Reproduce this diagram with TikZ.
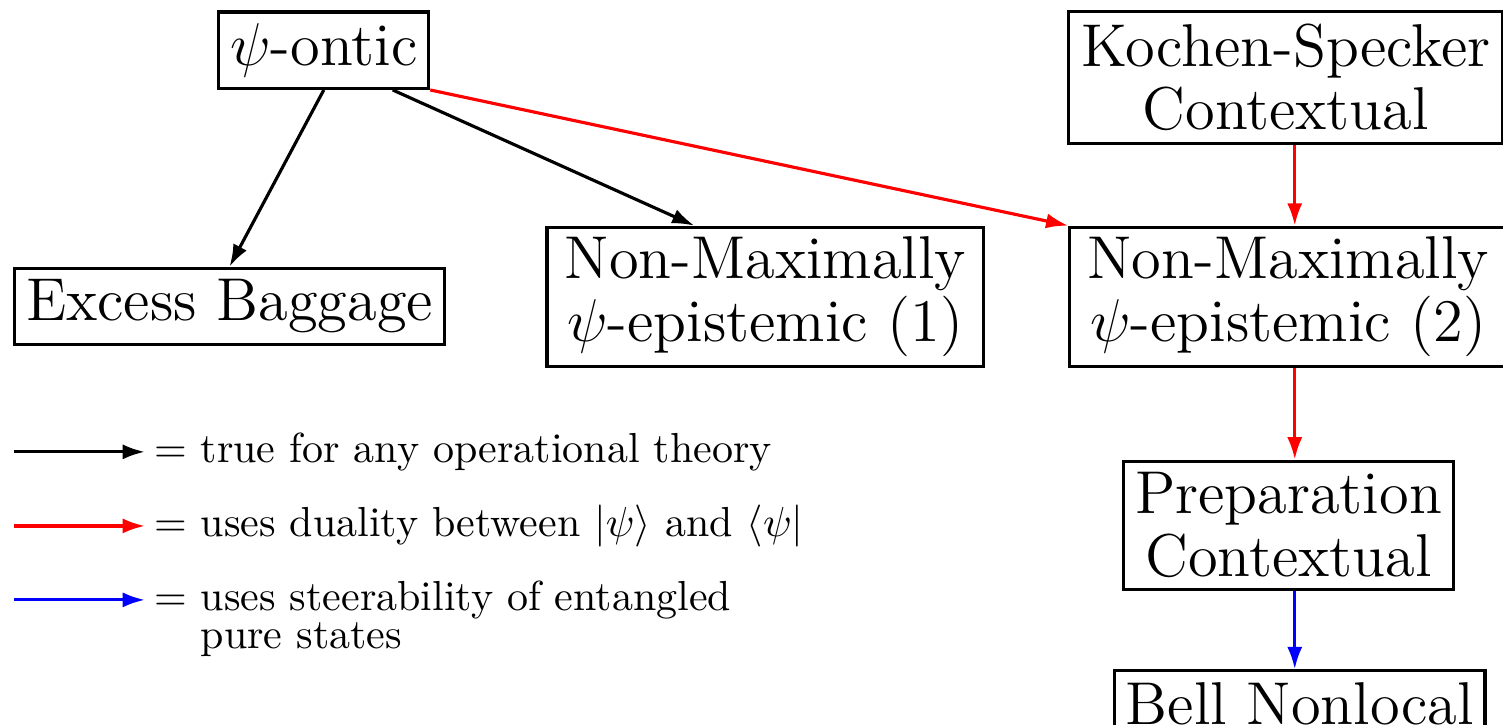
\documentclass[tikz,border=0pt]{standalone}
\usepackage{amsmath,amssymb}
\usepackage{xcolor}
\usetikzlibrary{positioning,arrows.meta}

\begin{document}
\begin{tikzpicture}[
  box/.style={draw, line width=0.75pt, align=center, inner sep=2.7pt,
    font=\fontsize{14.4}{15.07}\selectfont},
  arr/.style={line width=0.75pt, -{Latex[length=5.3pt,width=3.6pt]}},
  lab/.style={anchor=base west, inner sep=0pt, font=\fontsize{10}{12}\selectfont}]
\useasboundingbox (0,0) rectangle (12.58,-6.06);
\node[box] (ontic) at (2.71,-0.42) {$\psi$-ontic};
\node[box] (excess) at (1.921,-2.565) {Excess Baggage};
\node[box, inner xsep=4.2pt, inner ysep=2.2pt] (nme1) at (6.406,-2.483) {Non-Maximally\\$\psi$-epistemic (1)};
\node[box, inner xsep=2.9pt, inner ysep=3pt] (ks) at (10.762,-0.647) {Kochen-Specker\\Contextual};
\node[box, inner xsep=4.2pt, inner ysep=2.2pt] (nme2) at (10.782,-2.483) {Non-Maximally\\$\psi$-epistemic (2)};
\node[box] (prep) at (10.785,-4.397) {Preparation\\Contextual};
\node[box] (bell) at (10.879,-5.887) {Bell Nonlocal};
\draw[arr] (ontic.south) -- (excess.north);
\draw[arr] (ontic.-30) -- (nme1.135);
\draw[arr, red] (ontic.south east) -- (nme2.north west);
\coordinate (col) at (10.837,0);
\draw[arr, red] (col |- ks.south) -- (col |- nme2.north);
\draw[arr, red] (col |- nme2.south) -- (col |- prep.north);
\draw[arr, blue] (col |- prep.south) -- (col |- bell.north);
% legend
\coordinate (k1s) at (0.117,-3.782); \coordinate (k1e) at (1.213,-3.782);
\coordinate (k2s) at (0.117,-4.402); \coordinate (k2e) at (1.213,-4.402);
\coordinate (k3s) at (0.117,-5.021); \coordinate (k3e) at (1.213,-5.021);
\draw[arr] (k1s) -- (k1e);
\draw[arr, red] (k2s) -- (k2e);
\draw[arr, blue] (k3s) -- (k3e);
\node[lab] (k1t) at ([xshift=2pt,yshift=-2.5pt]k1e) {$=$ true for any operational theory};
\node[lab] (k2t) at ([xshift=2pt,yshift=-2.5pt]k2e) {$=$ uses duality between $|\psi\rangle$ and $\langle\psi|$};
\node[lab] (k3t) at ([xshift=2pt,yshift=-2.5pt]k3e) {$=$ \renewcommand{\arraystretch}{0.76}%
  \begin{tabular}[t]{@{}l@{}}uses steerability of entangled\\pure states\end{tabular}};
\end{tikzpicture}
\end{document}
